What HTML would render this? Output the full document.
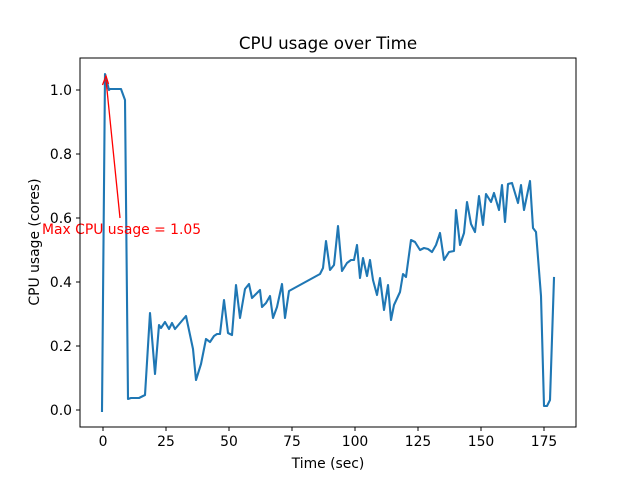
<!DOCTYPE html>
<html><head><style>body{margin:0;background:#fff}svg{display:block}text{font-family:"DejaVu Sans","Liberation Sans",sans-serif}</style></head><body>
<svg width="640" height="480" viewBox="0 0 640 480" xmlns="http://www.w3.org/2000/svg">
<rect width="640" height="480" fill="#fff"/>
<text x="328" y="49" font-size="16.7" text-anchor="middle">CPU usage over Time</text>
<polyline fill="none" stroke="#1f77b4" stroke-width="2.1" stroke-linejoin="round" stroke-linecap="square" points="102,411 105,74 109,90 110,89 121,89 125,100 128,399 131,398 134,398 139,398 145,395 150,313 155,374 159,325 161,328 165,322 169,329 172,323 175,329 186,316 193,349 196,380 201,364 206,339 210,342 214,336 217,334 220,334 224,300 228,333 232,335 236,285 240,318 245,289 249,284 252,298 260,290 262,307 266,303 270,296 273,318 277,307 282,284 285,318 289,291 320,274 323,268 326,241 330,270 334,265 338,226 342,271 347,263 351,260 354,260 357,245 360,278 363,258 367,276 370,260 373,280 377,295 380,278 384,310 388,285 391,320 394,305 400,292 403,274 406,277 411,240 415,242 420,250 424,248 428,249 432,252 436,245 440,233 444,260 449,252 454,251 456,210 460,245 464,233 467,202 471,224 475,232 479,196 483,225 486,194 491,202 494,193 499,210 502,185 505,222 508,184 512,183 518,203 521,185 524,210 530,181 533,228 536,232 541,296 544,406 547,406 550,400 554,278"/>
<line x1="120" y1="218" x2="106" y2="80" stroke="red" stroke-width="1.3"/>
<polyline points="102.5,85 106,76 108.5,84" fill="none" stroke="red" stroke-width="1.3"/>
<text x="42" y="234" font-size="13.9" fill="red">Max CPU usage = 1.05</text>
<rect x="80" y="58" width="496" height="369" fill="none" stroke="#000" stroke-width="1"/>
<g stroke="#000" stroke-width="1">
<line x1="103" y1="427" x2="103" y2="431"/><line x1="166" y1="427" x2="166" y2="431"/><line x1="229" y1="427" x2="229" y2="431"/><line x1="292" y1="427" x2="292" y2="431"/><line x1="355" y1="427" x2="355" y2="431"/><line x1="418" y1="427" x2="418" y2="431"/><line x1="481" y1="427" x2="481" y2="431"/><line x1="544" y1="427" x2="544" y2="431"/>
<line x1="76" y1="410" x2="80" y2="410"/><line x1="76" y1="346" x2="80" y2="346"/><line x1="76" y1="282" x2="80" y2="282"/><line x1="76" y1="218" x2="80" y2="218"/><line x1="76" y1="154" x2="80" y2="154"/><line x1="76" y1="90" x2="80" y2="90"/>
</g>
<g font-size="13.9" text-anchor="middle">
<text x="103" y="446">0</text><text x="166" y="446">25</text><text x="229" y="446">50</text><text x="292" y="446">75</text><text x="355" y="446">100</text><text x="418" y="446">125</text><text x="481" y="446">150</text><text x="544" y="446">175</text>
<text x="328" y="468">Time (sec)</text>
</g>
<g font-size="13.9" text-anchor="end">
<text x="72" y="415">0.0</text><text x="72" y="351">0.2</text><text x="72" y="287">0.4</text><text x="72" y="223">0.6</text><text x="72" y="159">0.8</text><text x="72" y="95">1.0</text>
</g>
<text transform="translate(39,242) rotate(-90)" font-size="13.9" text-anchor="middle">CPU usage (cores)</text>
</svg>
</body></html>
